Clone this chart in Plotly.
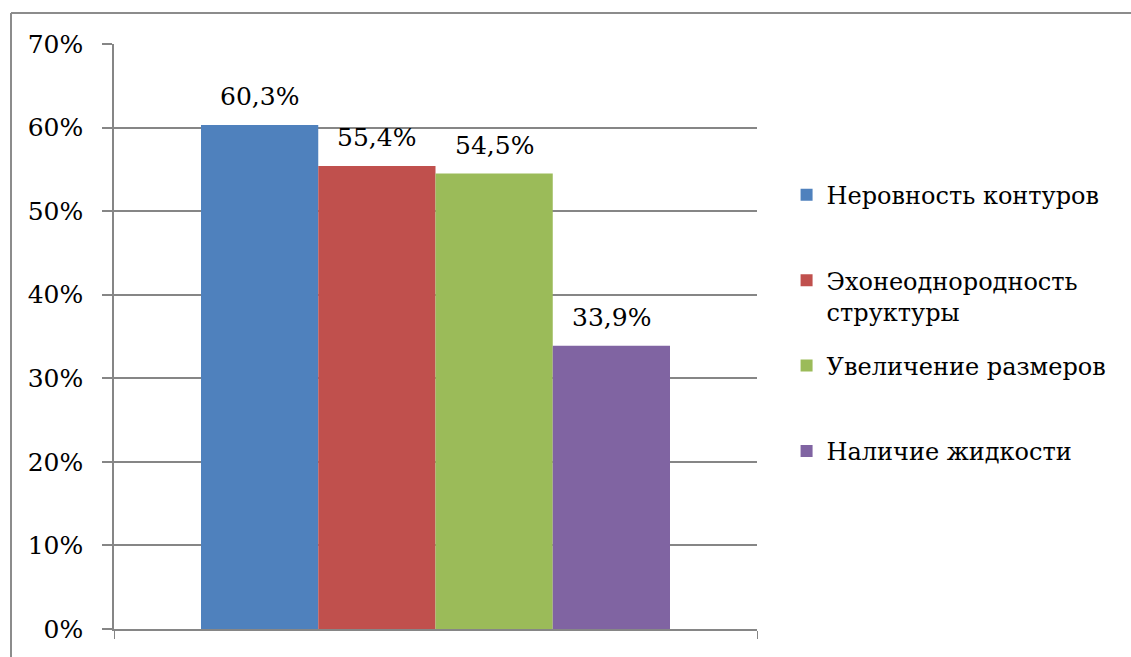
import plotly.graph_objects as go

series = ["Неровность контуров", "Эхонеоднородность<br>структуры", "Увеличение размеров", "Наличие жидкости"]
legend_text = ["Неровность контуров<br>\u00a0", "Эхонеоднородность<br>структуры", "Увеличение размеров<br>\u00a0", "Наличие жидкости"]
values = [60.3, 55.4, 54.5, 33.9]
labels = ["60,3%", "55,4%", "54,5%", "33,9%"]
colors = ["#4F81BD", "#C0504D", "#9BBB59", "#8064A2"]
yticks = [0, 10, 20, 30, 40, 50, 60, 70]
ytick_text = ["0%", "10%", "20%", "30%", "40%", "50%", "60%", "70%"]

FONT = "DejaVu Serif"
FS = 25
FS_L = 24

fig = go.Figure()
for i, (name, v, c) in enumerate(zip(legend_text, values, colors)):
    fig.add_trace(go.Bar(x=[i], y=[v], width=1.0, name=name, marker=dict(color=c, line=dict(width=0)),
                         legendgroup=str(i), hoverinfo="skip"))
    fig.add_annotation(x=i, y=v, text=labels[i], showarrow=False, yanchor="bottom", yshift=12,
                       font=dict(family=FONT, size=FS, color="black"))

xr = [-1.242, 4.242]
fig.update_layout(
    width=1131, height=657,
    margin=dict(l=114, r=374, t=44, b=28),
    paper_bgcolor="white", plot_bgcolor="white",
    font=dict(family=FONT, size=FS, color="black"),
    barmode="overlay",
    showlegend=True,
    legend=dict(x=1.046, y=0.78, xanchor="left", yanchor="top", valign="top",
                traceorder="grouped", tracegroupgap=20,
                font=dict(family=FONT, size=FS_L, color="black"), bgcolor="rgba(0,0,0,0)"),
    xaxis=dict(range=xr, tickvals=xr, ticktext=["", ""], ticks="outside", ticklen=8, tickcolor="#868686",
               showgrid=False, zeroline=False, showline=True, linecolor="#868686", linewidth=1.5,
               fixedrange=True),
    yaxis=dict(range=[0, 70], tickvals=yticks, ticktext=ytick_text, ticks="outside", ticklen=10,
               tickcolor="#868686", tickwidth=1.5, showgrid=True, gridcolor="#868686", gridwidth=1.5,
               zeroline=False, showline=True, linecolor="#868686", linewidth=1.5,
               ticklabelstandoff=14, tickfont=dict(family=FONT, size=FS, color="black"), fixedrange=True),
    shapes=[
        dict(type="line", xref="paper", yref="paper", x0=(11 - 114) / 643, x1=(11 - 114) / 643,
             y0=(629 - 13) / 585, y1=-0.1, line=dict(color="#8c8c8c", width=2)),
        dict(type="line", xref="paper", yref="paper", x0=(11 - 114) / 643, x1=1.7,
             y0=(629 - 13) / 585, y1=(629 - 13) / 585, line=dict(color="#8c8c8c", width=2)),
    ],
)
fig.write_html("out.html", config={"displayModeBar": False},
               post_script="document.body.style.margin='0';")
